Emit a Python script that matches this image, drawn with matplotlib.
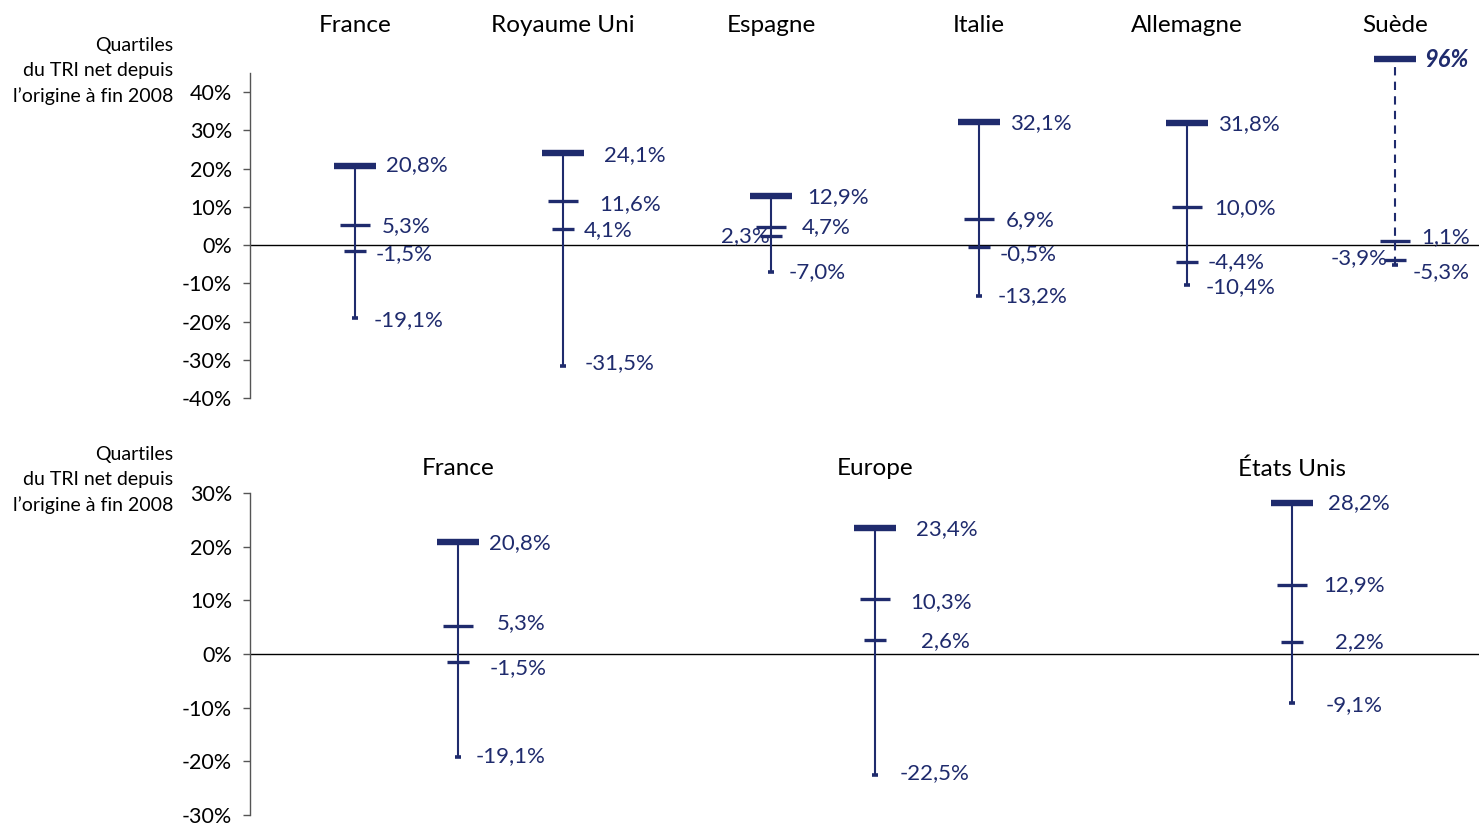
import matplotlib
matplotlib.use("Agg")
import matplotlib.pyplot as plt
import numpy as np

# ---------------- data ----------------
top_countries = ["France", "Royaume Uni", "Espagne", "Italie", "Allemagne", "Suède"]
top_max = [20.8, 24.1, 12.9, 32.1, 31.8, 96.0]
top_q3 = [5.3, 11.6, 4.7, 6.9, 10.0, 1.1]
top_med = [-1.5, 4.1, 2.3, -0.5, -4.4, -3.9]
top_min = [-19.1, -31.5, -7.0, -13.2, -10.4, -5.3]

bot_regions = ["France", "Europe", "États Unis"]
bot_max = [20.8, 23.4, 28.2]
bot_q3 = [5.3, 10.3, 12.9]
bot_med = [-1.5, 2.6, 2.2]
bot_min = [-19.1, -22.5, -9.1]

top_ticks = [-40, -30, -20, -10, 0, 10, 20, 30, 40]
bot_ticks = [-30, -20, -10, 0, 10, 20, 30]
ylabel_text = "Quartiles\ndu TRI net depuis\nl\u2019origine à fin 2008"

# ---------------- style ----------------
NAVY = "#1F2B6D"
FONT = ["Lato", "DejaVu Sans"]
plt.rcParams["font.family"] = FONT

# display cap for the off-scale Swedish maximum (value beyond axis range)
TOP_YLIM = (-40, 45)
OFFSCALE_DISPLAY = 48.6

# label offsets in pixels (dx, dy down) and horizontal alignment, per entity per level
top_offsets = [
    [(31, 0), (27, 1), (21, 3), (19, 2)],
    [(41, 2), (36, 3), (21, 1), (22, -2)],
    [(36, 1), (31, 0), (-1, 0, "right"), (18, 0)],
    [(31, 1), (27, 1), (21, 7), (19, 1)],
    [(31, 1), (27, 1), (21, 0), (19, 2)],
    [(29, 0), (26, -4), (-7, -2, "right"), (18, 7)],
]
bot_offsets = [
    [(31, 1), (39, -2), (32, 6), (18, 0)],
    [(41, 1), (35, 3), (46, 1), (24, -2)],
    [(36, 0), (31, 0), (43, 0), (33, 2)],
]

PX = 0.72  # points per pixel at dpi 100


def fmt(v):
    s = f"{v:.1f}".replace(".", ",")
    return s + "%"


def draw_panel(ax, names, mx, q3, md, mn, offsets, cap=None):
    xs = np.arange(len(names))
    for i, x in enumerate(xs):
        top_val = mx[i]
        disp_top = top_val
        dashed = False
        if cap is not None and top_val > cap:
            disp_top = OFFSCALE_DISPLAY
            dashed = True
        ax.plot([x, x], [mn[i], disp_top], color=NAVY, lw=1.5,
                ls=(0, (4, 3)) if dashed else "-", clip_on=False, zorder=3,
                solid_capstyle="butt")
        ax.plot([x], [disp_top], marker="_", ms=30, mew=4.6, color=NAVY,
                clip_on=False, zorder=4)
        ax.plot([x], [q3[i]], marker="_", ms=21.5, mew=2.4, color=NAVY,
                clip_on=False, zorder=4)
        ax.plot([x], [md[i]], marker="_", ms=16, mew=2.4, color=NAVY,
                clip_on=False, zorder=4)
        ax.plot([x], [mn[i]], marker="_", ms=5, mew=2.6, color=NAVY,
                clip_on=False, zorder=4)
        vals = [top_val, q3[i], md[i], mn[i]]
        ys = [disp_top, q3[i], md[i], mn[i]]
        for j in range(4):
            off = offsets[i][j]
            ha = off[2] if len(off) > 2 else "left"
            txt = "96%" if (dashed and j == 0) else fmt(vals[j])
            kw = dict(fontsize=16)
            if dashed and j == 0:
                kw = dict(fontweight="bold", fontstyle="italic", fontsize=17)
            ax.annotate(txt, (x, ys[j]), xytext=(off[0] * PX, -off[1] * PX),
                        textcoords="offset points", ha=ha, va="center",
                        color=NAVY, annotation_clip=False,
                        family=FONT, **kw)


fig = plt.figure(figsize=(14.79, 8.26), dpi=100)

W, H = 1479, 826
# top axes: x 250..1479, y 73..398 ; bottom axes: y 493..815
ax1 = fig.add_axes([250 / W, 1 - 398 / H, 1229 / W, (398 - 73) / H])
ax2 = fig.add_axes([250 / W, 1 - 815 / H, 1229 / W, (815 - 493) / H])

for ax, ticks in ((ax1, top_ticks), (ax2, bot_ticks)):
    for s in ("top", "right", "bottom"):
        ax.spines[s].set_visible(False)
    ax.spines["left"].set_color("#555555")
    ax.spines["left"].set_linewidth(1.0)
    ax.set_yticks(ticks)
    ax.set_yticklabels([f"{t}%" for t in ticks])
    ax.tick_params(axis="y", direction="out", length=5, width=1.0,
                   color="#555555", labelsize=15.5, pad=8)
    ax.set_xticks([])
    ax.axhline(0, color="black", lw=1.0, zorder=1)
    ax.patch.set_alpha(0)

ax1.set_ylim(*TOP_YLIM)
ax1.set_xlim(-0.505, 5.404)
ax2.set_ylim(-30, 30)
ax2.set_xlim(-0.499, 2.448)

draw_panel(ax1, top_countries, top_max, top_q3, top_med, top_min, top_offsets, cap=TOP_YLIM[1])
draw_panel(ax2, bot_regions, bot_max, bot_q3, bot_med, bot_min, bot_offsets)

for i, n in enumerate(top_countries):
    ax1.text(i, 1.146, n, transform=ax1.get_xaxis_transform(), ha="center",
             va="center", fontsize=17.5, color="black")
for i, n in enumerate(bot_regions):
    ax2.text(i, 1.075, n, transform=ax2.get_xaxis_transform(), ha="center",
             va="center", fontsize=17.5, color="black")

fig.text(173 / W, 1 - 37 / H, ylabel_text, ha="right", va="top", fontsize=14,
         linespacing=1.55, color="black")
fig.text(173 / W, 1 - 446 / H, ylabel_text, ha="right", va="top", fontsize=14,
         linespacing=1.55, color="black")

fig.savefig("out.png", dpi=100)
